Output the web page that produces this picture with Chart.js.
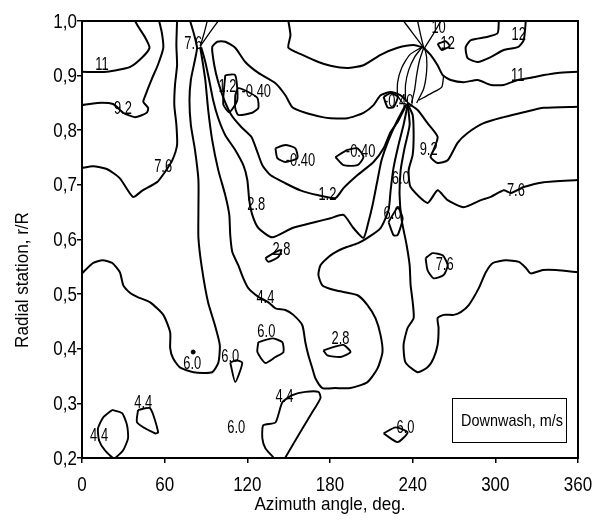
<!DOCTYPE html>
<html>
<head>
<meta charset="utf-8">
<script src="https://cdn.jsdelivr.net/npm/chart.js@4.4.1/dist/chart.umd.min.js"></script>
<style>
  html, body { margin: 0; padding: 0; background: #fff; }
  #wrap { width: 598px; height: 525px; }
</style>
</head>
<body>
<div id="wrap"><canvas id="chart" width="598" height="525"></canvas></div>
<script>
// Axis ticks
const xTicks = [0, 60, 120, 180, 240, 300, 360];
const yTicks = [0.2, 0.3, 0.4, 0.5, 0.6, 0.7, 0.8, 0.9, 1.0];

// Contour lines, points are [azimuth deg, r/R]
const line11West = [[0,.907],[18,.907],[35,.916],[44,.934],[49,.951],[46,.969],[41,.989],[38.5,1]];
const line92West = [[0,.846],[11,.850],[22.5,.848],[30,.832],[38.5,.824],[47,.832],[48,.841],[44.5,.852],[46,.864],[51,.896],[55,.919],[59,.951],[58,.978],[56,1]];
const line76West = [[0,.731],[8,.734],[18,.729],[27.5,.712],[37,.678],[44,.690],[54.5,.705],[60,.723],[65.5,.745],[69,.773],[68.5,.810],[67,.846],[67.5,.883],[69,.919],[68.5,.956],[69,1]];
const line60West = [[78.5,1],[81.5,.974],[83.5,.951],[82,.929],[79,.892],[78,.855],[79,.810],[82,.764],[84.5,.709],[84.5,.654],[84.5,.603],[87,.548],[91.5,.485],[96.5,.443],[100,.407],[99,.375],[94.5,.357],[81,.357],[71,.366],[66,.383],[64,.401],[64,.430],[59,.462],[49.5,.485],[40,.495],[35,.502],[30,.516],[27.5,.540],[22,.557],[15,.562],[8,.557],[0,.538]];
const line44 = [[85.8,.952],[87.3,.929],[89.5,.892],[91.6,.837],[94.5,.782],[98.9,.727],[104,.681],[106.9,.645],[107.6,.608],[109.1,.577],[113.4,.553],[117.1,.529],[120.7,.511],[128,.495],[135.3,.485],[140.4,.474],[147.6,.471],[153.4,.462],[159.9,.443],[162.1,.412],[164.3,.388],[167.2,.364],[169.4,.346],[174.5,.328],[183.9,.328],[194.9,.328],[207.2,.339],[214.5,.364],[218.1,.394],[216.7,.425],[213,.456],[207.2,.480],[200,.498],[183.9,.507],[174.5,.516],[171.6,.535],[173.1,.553],[180.4,.571],[189.8,.584],[200,.593],[207.2,.603],[216.7,.621],[222.5,.654],[224,.690],[226.1,.731],[229.7,.773],[233.4,.810],[236.3,.846]];
const line28 = [[86.5,.952],[89.5,.925],[92.3,.892],[95.2,.855],[98.9,.822],[104,.791],[111.2,.764],[117.1,.736],[120,.709],[121.4,.672],[123.6,.645],[128,.621],[138.1,.604],[152.7,.621],[169.4,.632],[180.4,.639],[189.8,.645],[197,.621],[204.3,.603],[207.9,.632],[210.9,.663],[214.5,.709],[217.4,.745],[222.5,.782],[228.3,.815],[234.8,.846]];
const line12 = [[236.3,.852],[231.3,.864],[224,.870],[216.7,.864],[211.6,.846],[204.3,.832],[192.7,.822],[180.4,.822],[174.5,.824],[162.1,.832],[152.7,.842],[147.6,.864],[140.4,.886],[128,.905],[118.5,.925],[111.2,.951],[104,.962],[98.2,.962],[94.5,.952],[96,.919],[98.9,.888],[103.3,.855],[108.4,.828],[115.6,.806],[122.9,.788],[127.3,.760],[130.9,.736],[136.7,.718],[147.6,.703],[158.5,.690],[171.6,.681],[184,.676],[189.8,.694],[200,.718],[211.6,.742],[218.9,.767],[224,.797],[229.1,.815],[232.7,.833],[235.6,.848]];
const line92East = [[236.3,.850],[243.6,.837],[250.8,.813],[258.1,.788],[255.2,.764],[253,.751],[258.1,.740],[265.4,.745],[272.6,.777],[279.9,.795],[291.5,.813],[306.1,.824],[320.6,.833],[335.2,.841],[360,.843]];
const line76East = [[236.3,.848],[240,.828],[240.7,.791],[240,.755],[237.1,.727],[238.5,.696],[250.8,.667],[258.1,.690],[265.4,.672],[277,.659],[289.5,.672],[296.7,.678],[306.1,.690],[311.3,.685],[320.6,.696],[335.2,.705],[360,.709]];
const line60East = [[236.3,.850],[237.8,.810],[234.1,.767],[231.3,.727],[230.5,.681],[232,.636],[235.6,.590],[237.8,.553],[238.5,.517],[240,.486],[240.7,.456],[236.3,.438],[233.4,.407],[234.8,.375],[243.6,.357],[250.8,.366],[255.2,.383],[258.1,.407],[258.8,.438],[258.1,.456],[262.5,.462],[269.8,.462],[274.9,.467],[280.7,.480],[288,.511],[293.1,.540],[298.2,.557],[307.6,.562],[317.1,.559],[322.2,.548],[325.8,.538],[334.5,.544],[344,.544],[360,.540]];
const line11East = [[248,.951],[253,.938],[258.1,.919],[261.8,.901],[267.6,.892],[277,.888],[287.2,.892],[296.7,.883],[306.1,.883],[316.3,.892],[325.8,.896],[335.2,.901],[345.3,.905],[360,.907]];
const lineTopMid = [[149.8,1],[151.3,.974],[149.8,.951],[160,.938],[171.6,.925],[180.4,.918],[192.7,.914],[204.3,.919],[216.7,.938],[229.1,.951],[240.7,.956],[248,.951]];
const line12Top = [[302.5,1],[301.7,.978],[294.5,.971],[282.2,.965],[278.5,.952],[279.9,.932],[287.2,.925],[296.7,.934],[306.1,.947],[316.3,.952],[320.6,.965],[322.1,1]];

// lines bunched between the two singular points near 248 deg
const link1 = [[246.5,.952],[237.8,.938],[232,.914],[229.1,.888],[229.1,.864],[232.7,.850]];
const link2 = [[246.5,.951],[241.4,.934],[237.1,.910],[234.8,.883],[234.8,.852]];
const link3 = [[248,.951],[245.1,.929],[242.9,.901],[241.4,.874],[239.2,.850]];
const link4 = [[248.7,.951],[250.1,.934],[250.1,.907],[248,.876],[242.9,.850]];
const link5 = [[244.4,.855],[253.8,.868],[261.1,.879],[262.5,.901]];
const riseA = [[248,.951],[240,.978],[233.4,1]];
const riseB = [[248,.951],[245.8,.974],[243.6,1]];
const riseC = [[248.7,.951],[254.5,.974],[260.4,1]];
const riseD = [[85.8,.954],[88.7,.978],[90.9,1]];
const riseE = [[85.8,.954],[93.1,.980],[98.9,1]];

// closed islands
const loopLow1 = [[111.2,.864],[113.4,.877],[120.7,.870],[127.3,.859],[128,.841],[123.6,.832],[113.4,.828],[111.2,.841],[111.2,.864]];
const loopLow2 = [[104,.901],[111.2,.901],[112.7,.855],[106.9,.833],[102.5,.848],[104,.901]];
const loopLow3 = [[140.4,.767],[147.6,.773],[154.9,.767],[156.3,.749],[147.6,.742],[141.8,.749],[140.4,.767]];
const loopLow4 = [[183.9,.751],[192.7,.764],[200,.767],[204.3,.751],[200,.736],[189.8,.736],[183.9,.751]];
const loopLow5 = [[218.9,.861],[224,.868],[229.1,.861],[226.1,.842],[221.8,.842],[218.9,.861]];
const loop60a = [[222.5,.632],[229.1,.658],[232.7,.639],[229.1,.608],[226.1,.608],[222.5,.632]];
const loop28a = [[133.1,.566],[140.4,.577],[144.7,.581],[142.5,.568],[135.3,.559],[133.1,.566]];
const loop60b = [[128,.412],[138.1,.419],[145.4,.412],[146.2,.394],[140.4,.385],[133.1,.374],[127.3,.394],[128,.412]];
const loop60c = [[107.6,.375],[112,.379],[116.3,.374],[111.2,.339],[107.6,.375]];
const loop28b = [[175.2,.397],[182.5,.403],[189.8,.407],[194.9,.394],[187.6,.385],[178.1,.388],[175.2,.397]];
const loop76 = [[249.4,.566],[254.5,.575],[261.8,.571],[265.4,.553],[262.5,.535],[255.2,.529],[250.8,.544],[249.4,.566]];
const loop44a = [[21.8,.288],[29.1,.282],[32.7,.260],[33.4,.236],[29.8,.214],[23.3,.2],[16.7,.214],[12.4,.232],[11.6,.254],[15.3,.274],[21.8,.288]];
const loop44b = [[40.7,.288],[49.5,.291],[55.3,.247],[53.1,.245],[40,.265],[40.7,.288]];
const loop44c = [[147.6,.201],[152.7,.223],[160,.254],[167.2,.284],[173.1,.310],[171.6,.321],[162.1,.321],[152.7,.315],[145.4,.302],[140.4,.265],[131.6,.260],[130.9,.236],[133.1,.218],[138.9,.201]];
const loop60d = [[218.9,.245],[227.6,.256],[236.3,.247],[229.1,.229],[218.9,.245]];
const loop12 = [[258.1,.958],[263.9,.963],[266.8,.954],[261.1,.947],[258.1,.958]];
const dot60 = [[80.7,.394]];

// contour value labels: [text, azimuth, r/R]
const contourLabels = [
  ['11', 14.5, .919], ['9.2', 29.8, .839], ['7.6', 58.9, .733], ['7.6', 80.7, .958],
  ['1.2', 105.5, .879], ['-0.40', 126.5, .870], ['-0.40', 158.5, .745], ['1.2', 178.1, .681],
  ['2.8', 126.5, .663], ['2.8', 144.7, .582], ['4.4', 133.1, .493], ['6.0', 133.8, .432],
  ['6.0', 107.6, .385], ['6.0', 80, .372], ['4.4', 44.4, .302], ['4.4', 12.4, .240],
  ['6.0', 112, .255], ['4.4', 146.9, .313], ['2.8', 187.6, .418], ['6.0', 234.8, .256],
  ['7.6', 263.2, .553], ['6.0', 225.4, .647], ['6.0', 231.3, .712], ['9.2', 251.6, .764],
  ['-0.40', 229.8, .853], ['-0.40', 202.2, .760], ['7.6', 314.9, .690], ['11', 316.3, .899],
  ['12', 317, .974], ['12', 265.4, .958], ['10', 258.8, .987]
];

const mainLines = [line11West, line92West, line76West, line60West, line44, line28, line12,
  line92East, line76East, line60East, line11East, lineTopMid, line12Top];
const thinLines = [link1, link2, link3, link4, link5, riseA, riseB, riseC, riseD, riseE];
const islands = [loopLow1, loopLow2, loopLow3, loopLow4, loopLow5, loop60a, loop28a, loop60b,
  loop60c, loop28b, loop76, loop44a, loop44b, loop44c, loop60d, loop12];

const FONT = '"Liberation Sans", Arial, sans-serif';
const toPoints = arr => arr.map(([x, y]) => ({ x, y }));
const lineSet = (arr, width) => ({
  data: toPoints(arr),
  showLine: true,
  borderColor: '#000',
  borderWidth: width,
  pointRadius: 0,
  tension: 0.2,
  fill: false
});

const datasets = [
  ...mainLines.map(l => lineSet(l, 2)),
  ...thinLines.map(l => lineSet(l, 1.3)),
  ...islands.map(l => lineSet(l, 1.9)),
  { data: toPoints(dot60), showLine: false, pointRadius: 2, backgroundColor: '#000', borderColor: '#000' }
];

// narrow text: a regular face squeezed horizontally
function narrowText(ctx, text, x, y, size, squeeze, align) {
  ctx.save();
  ctx.translate(x, y);
  ctx.scale(squeeze, 1);
  ctx.font = size + 'px ' + FONT;
  ctx.textAlign = align;
  ctx.textBaseline = 'middle';
  ctx.fillText(text, 0, 0);
  ctx.restore();
}

// frame, tick labels, axis titles, contour labels and the units box
const decorations = {
  id: 'decorations',
  afterDraw(chart) {
    const { ctx, chartArea: a, scales: { x, y } } = chart;
    ctx.save();
    ctx.strokeStyle = '#000';
    ctx.fillStyle = '#000';
    ctx.lineWidth = 2;
    ctx.strokeRect(a.left, a.top, a.right - a.left, a.bottom - a.top);

    contourLabels.forEach(([t, az, r]) => {
      narrowText(ctx, t, x.getPixelForValue(az), y.getPixelForValue(r), 19, 0.68, 'center');
    });

    xTicks.forEach(v => narrowText(ctx, String(v), x.getPixelForValue(v), a.bottom + 27, 20, 0.85, 'center'));
    yTicks.forEach(v => narrowText(ctx, v.toFixed(1).replace('.', ','), a.left - 5, y.getPixelForValue(v) + 1, 20, 0.85, 'right'));

    // units box
    const bx = a.right - 126, by = a.bottom - 60, bw = 114, bh = 44;
    ctx.fillStyle = '#fff';
    ctx.fillRect(bx, by, bw, bh);
    ctx.lineWidth = 1;
    ctx.strokeRect(bx + 0.5, by + 0.5, bw, bh);
    ctx.fillStyle = '#000';
    narrowText(ctx, 'Downwash, m/s', bx + 9, by + bh / 2 + 1, 17, 0.85, 'left');

    // axis titles
    narrowText(ctx, 'Azimuth angle, deg.', (a.left + a.right) / 2, 505, 19, 0.9, 'center');
    ctx.translate(23, 280);
    ctx.rotate(-Math.PI / 2);
    narrowText(ctx, 'Radial station, r/R', 0, 0, 19, 0.9, 'center');
    ctx.restore();
  }
};

new Chart(document.getElementById('chart'), {
  type: 'scatter',
  data: { datasets },
  plugins: [decorations],
  options: {
    responsive: false,
    devicePixelRatio: 1,
    animation: false,
    layout: { padding: { top: 21, right: 20, left: 0, bottom: 0 } },
    plugins: { legend: { display: false }, tooltip: { enabled: false } },
    scales: {
      x: {
        type: 'linear',
        min: 0,
        max: 360,
        afterBuildTicks: s => { s.ticks = xTicks.map(v => ({ value: v })); },
        afterFit: s => { s.height = 67; },
        ticks: { display: false },
        grid: { drawOnChartArea: false, tickLength: 5, color: '#000', lineWidth: 1.5 },
        border: { color: '#000', width: 2 }
      },
      y: {
        type: 'linear',
        min: 0.2,
        max: 1.0,
        afterBuildTicks: s => { s.ticks = yTicks.map(v => ({ value: v })); },
        afterFit: s => { s.width = 82; },
        ticks: { display: false },
        grid: { drawOnChartArea: false, tickLength: 5, color: '#000', lineWidth: 1.5 },
        border: { color: '#000', width: 2 }
      }
    }
  }
});
</script>
</body>
</html>
